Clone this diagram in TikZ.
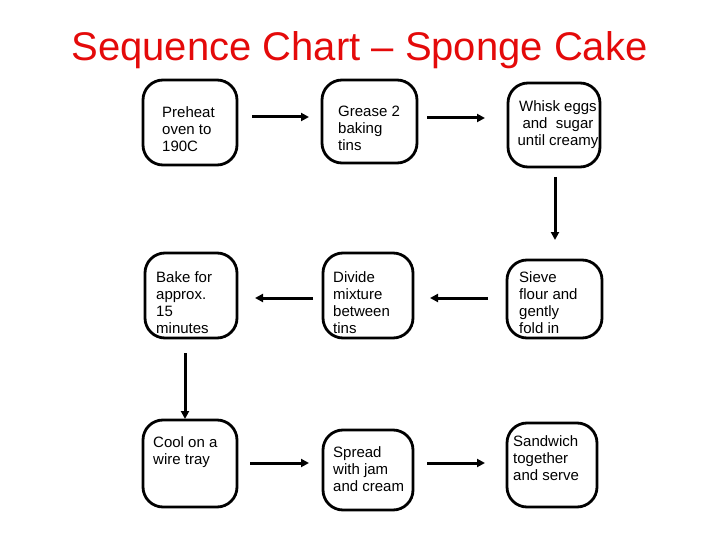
\documentclass[tikz,border=0pt]{standalone}
\usepackage{fontspec}
\setmainfont{Liberation Sans}
\usetikzlibrary{arrows.meta}
\definecolor{titlered}{RGB}{228,10,10}
\tikzset{
  stepbox/.style={draw=black, line width=2.8pt, rounded corners=20pt, inner sep=0pt},
  steptext/.style={anchor=north west, inner sep=0pt, align=left, font=\fontsize{15}{17.1}\selectfont},
  flow/.style={line width=3pt, -{Triangle[length=8pt,width=8pt]}},
}
\newcommand{\fl}{\rule{0pt}{10.5pt}}
\begin{document}
\begin{tikzpicture}[x=1pt,y=-1pt]
\useasboundingbox (0,0) rectangle (720,540);
% title
\node[anchor=base, inner sep=0pt, text=titlered, font=\fontsize{40}{46}\selectfont] (title) at (359.5,61) {Sequence Chart – Sponge Cake};
% boxes
\node[stepbox, minimum width=94pt, minimum height=85pt] (b1) at (190,122.5) {};
\node[stepbox, minimum width=95pt, minimum height=83pt] (b2) at (369.5,121.5) {};
\node[stepbox, minimum width=92pt, minimum height=84pt] (b3) at (554,125) {};
\node[stepbox, minimum width=92pt, minimum height=85pt] (b4) at (191,295.5) {};
\node[stepbox, minimum width=90pt, minimum height=85pt] (b5) at (368,295.5) {};
\node[stepbox, minimum width=95pt, minimum height=78pt] (b6) at (554.5,299) {};
\node[stepbox, minimum width=94pt, minimum height=87pt] (b7) at (190,463.5) {};
\node[stepbox, minimum width=90pt, minimum height=80pt] (b8) at (368,470) {};
\node[stepbox, minimum width=90pt, minimum height=84pt] (b9) at (552,465) {};
% texts
\node[steptext] (t1) at (162,106) {\fl Preheat\\oven to\\190C};
\node[steptext] (t2) at (338,106) {\fl Grease 2\\baking\\tins};
\node[steptext, anchor=north, align=center] (t3) at (558,100) {\fl Whisk eggs\\and~~sugar\\until creamy};
\node[steptext] (t4) at (156,271) {\fl Bake for\\approx.\\15\\minutes};
\node[steptext] (t5) at (333,271) {\fl Divide\\mixture\\between\\tins};
\node[steptext] (t6) at (519,271) {\fl Sieve\\flour and\\gently\\fold in};
\node[steptext] (t7) at (153,436) {\fl Cool on a\\wire tray};
\node[steptext] (t8) at (333,446) {\fl Spread\\with jam\\and cream};
\node[steptext] (t9) at (513,435) {\fl Sandwich\\together\\and serve};
% arrow ends
\coordinate (a1s) at (252,117); \coordinate (a1e) at (309,117);
\coordinate (a2s) at (427,118); \coordinate (a2e) at (485,118);
\coordinate (a3s) at (555,177); \coordinate (a3e) at (555,240);
\coordinate (a4s) at (313,298); \coordinate (a4e) at (255,298);
\coordinate (a5s) at (488,298); \coordinate (a5e) at (430,298);
\coordinate (a6s) at (185,353); \coordinate (a6e) at (185,419);
\coordinate (a7s) at (250,463); \coordinate (a7e) at (309,463);
\coordinate (a8s) at (427,463); \coordinate (a8e) at (485,463);
\draw[flow] (a1s) -- (a1e);
\draw[flow] (a2s) -- (a2e);
\draw[flow] (a3s) -- (a3e);
\draw[flow] (a4s) -- (a4e);
\draw[flow] (a5s) -- (a5e);
\draw[flow] (a6s) -- (a6e);
\draw[flow] (a7s) -- (a7e);
\draw[flow] (a8s) -- (a8e);
\end{tikzpicture}
\end{document}
